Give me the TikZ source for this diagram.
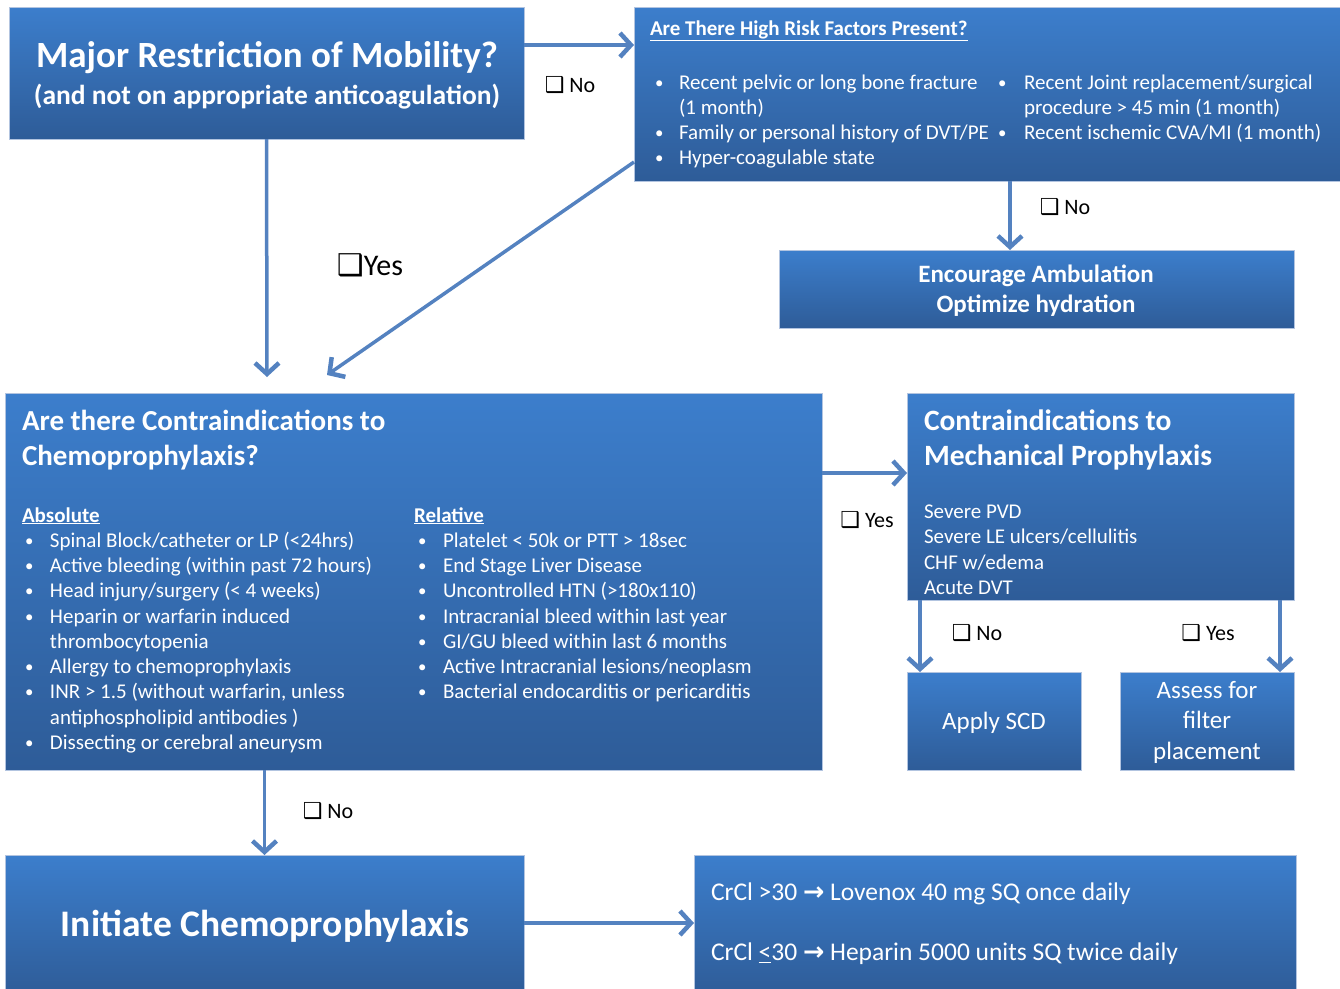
\documentclass[tikz,border=0pt]{standalone}
\usepackage{fontspec}
\setmainfont{Carlito}
\newfontfamily\sym{DejaVu Sans}
\usetikzlibrary{arrows.meta,calc}
\definecolor{boxtop}{RGB}{60,126,204}
\definecolor{boxbot}{RGB}{46,92,152}
\definecolor{boxline}{RGB}{178,196,224}
\definecolor{arrowc}{RGB}{84,130,192}
\newcommand{\cb}{{\sym\bfseries\char"2751}}
\newcommand{\bul}[1]{\makebox[#1][l]{\raisebox{1pt}{\scalebox{0.8}{•}}}}
\newcommand{\fs}[2]{\fontsize{#1}{#2}\selectfont}
\tikzset{
  box/.style={draw=boxline, line width=1pt, top color=boxtop, bottom color=boxbot,
    inner sep=0pt, outer sep=0pt, anchor=north west},
  conn/.style={draw=arrowc, line width=3.5pt,
    -{Straight Barb[length=11pt,width=24pt,line width=4.5pt]}},
  txt/.style={text=white, inner sep=0pt, outer sep=0pt},
  lbl/.style={text=black, inner sep=0pt, outer sep=0pt, font=\fs{22}{26}},
}
\begin{document}
\begin{tikzpicture}[x=1pt,y=-1pt]
\useasboundingbox (0,0) rectangle (1340,988);
% boxes
\node[box, minimum width=515pt, minimum height=132pt] (b1) at (9,7) {};
\node[box, minimum width=710pt, minimum height=174pt] (b2) at (634,7) {};
\node[box, minimum width=515pt, minimum height=78pt] (b3) at (779,250) {};
\node[box, minimum width=817pt, minimum height=377pt] (b4) at (5,393) {};
\node[box, minimum width=387pt, minimum height=207pt] (b5) at (907,393) {};
\node[box, minimum width=174pt, minimum height=98pt] (b6) at (907,672) {};
\node[box, minimum width=174pt, minimum height=98pt] (b7) at (1120,672) {};
\node[box, minimum width=519pt, minimum height=140pt] (b8) at (5,855) {};
\node[box, minimum width=602pt, minimum height=140pt] (b9) at (694,855) {};

% texts
\node[txt, font=\fs{37}{42}\bfseries] (t1a) at (267,58) {Major Restriction of Mobility?};
\node[txt, font=\fs{27.5}{32}\bfseries] (t1b) at (267,97) {(and not on appropriate anticoagulation)};

\node[txt, font=\fs{21}{25}\bfseries, anchor=west] (t2h) at (650,31) {\underline{Are There High Risk Factors Present?}};
\node[txt, font=\fs{21}{25}, anchor=base west, align=left] (t2l) at (655,164.5)
  {\bul{24pt}Recent pelvic or long bone fracture\\
   \hspace*{24pt}(1 month)\\
   \bul{24pt}Family or personal history of DVT/PE\\
   \bul{24pt}Hyper-coagulable state};
\node[txt, font=\fs{21}{25}, anchor=base west, align=left] (t2r) at (998,139.5)
  {\bul{26pt}Recent Joint replacement/surgical\\
   \hspace*{26pt}procedure > 45 min (1 month)\\
   \bul{26pt}Recent ischemic CVA/MI (1 month)};

\node[txt, font=\fs{25}{29.5}\bfseries, align=center] (t3) at (1036,290.5)
  {Encourage Ambulation\\Optimize hydration};

\node[txt, font=\fs{29}{35}\bfseries, anchor=base west, align=left] (t4h) at (22,465)
  {Are there Contraindications to\\Chemoprophylaxis?};
\node[txt, font=\fs{21}{25.25}, anchor=base west, align=left] (t4l) at (22,749.25)
  {\textbf{\underline{Absolute}}\\
   \hspace*{3pt}\bul{25pt}Spinal Block/catheter or LP (<24hrs)\\
   \hspace*{3pt}\bul{25pt}Active bleeding (within past 72 hours)\\
   \hspace*{3pt}\bul{25pt}Head injury/surgery (< 4 weeks)\\
   \hspace*{3pt}\bul{25pt}Heparin or warfarin induced\\
   \hspace*{28pt}thrombocytopenia\\
   \hspace*{3pt}\bul{25pt}Allergy to chemoprophylaxis\\
   \hspace*{3pt}\bul{25pt}INR > 1.5 (without warfarin, unless\\
   \hspace*{28pt}antiphospholipid antibodies )\\
   \hspace*{3pt}\bul{25pt}Dissecting or cerebral aneurysm};
\node[txt, font=\fs{21}{25.25}, anchor=base west, align=left] (t4r) at (414,698.75)
  {\textbf{\underline{Relative}}\\
   \hspace*{4pt}\bul{25pt}Platelet < 50k or PTT > 18sec\\
   \hspace*{4pt}\bul{25pt}End Stage Liver Disease\\
   \hspace*{4pt}\bul{25pt}Uncontrolled HTN (>180x110)\\
   \hspace*{4pt}\bul{25pt}Intracranial bleed within last year\\
   \hspace*{4pt}\bul{25pt}GI/GU bleed within last 6 months\\
   \hspace*{4pt}\bul{25pt}Active Intracranial lesions/neoplasm\\
   \hspace*{4pt}\bul{25pt}Bacterial endocarditis or pericarditis};

\node[txt, font=\fs{29.5}{35}\bfseries, anchor=base west, align=left] (t5h) at (924,465)
  {Contraindications to\\Mechanical Prophylaxis};
\node[txt, font=\fs{21}{25.3}, anchor=base west, align=left] (t5l) at (924,594.4)
  {Severe PVD\\Severe LE ulcers/cellulitis\\CHF w/edema\\Acute DVT};

\node[txt, font=\fs{25}{30}] (t6) at (994,723) {Apply SCD};
\node[txt, font=\fs{25}{30.5}, align=center] (t7) at (1207,722) {Assess for\\filter\\placement};

\node[txt, font=\fs{37.5}{42}\bfseries] (t8) at (265,926) {Initiate Chemoprophylaxis};
\node[txt, font=\fs{25.5}{30}, anchor=west] (t9a) at (711,894)
  {CrCl >30 {\sym\bfseries →} Lovenox 40 mg SQ once daily};
\node[txt, font=\fs{25.5}{30}, anchor=west] (t9b) at (711,954)
  {CrCl \underline{<}30 {\sym\bfseries →} Heparin 5000 units SQ twice daily};

% connectors
\coordinate (e2) at (267,377);
\coordinate (e3) at (327,375);
\draw[conn] ($(b1.north east)+(0,38)$) -- ($(b2.north west)+(0,38)$);
\draw[conn] (b1.south) -- (e2);
\draw[conn] ($(b2.south west)+(0,-19)$) -- (e3);
\draw[conn] ($(b2.south west)+(376,0)$) -- ($(b3.north west)+(231,0)$);
\draw[conn] ($(b4.north east)+(0,80)$) -- ($(b5.north west)+(0,80)$);
\draw[conn] ($(b5.south west)+(13,0)$) -- ($(b6.north west)+(13,0)$);
\draw[conn] ($(b5.south east)+(-14,0)$) -- ($(b7.north east)+(-14,0)$);
\draw[conn] (b8.north |- b4.south) -- (b8.north);
\draw[conn] ($(b8.north east)+(0,68)$) -- ($(b9.north west)+(0,68)$);

% labels
\node[lbl] (l1) at (570,85) {\cb\ No};
\node[lbl, font=\fs{30}{34}] (l2) at (370,265) {\cb Yes};
\node[lbl] (l3) at (1065,207) {\cb\ No};
\node[lbl] (l4) at (867,520) {\cb\ Yes};
\node[lbl] (l5) at (977,633) {\cb\ No};
\node[lbl] (l6) at (1208,633) {\cb\ Yes};
\node[lbl] (l7) at (328,811) {\cb\ No};
\end{tikzpicture}
\end{document}
